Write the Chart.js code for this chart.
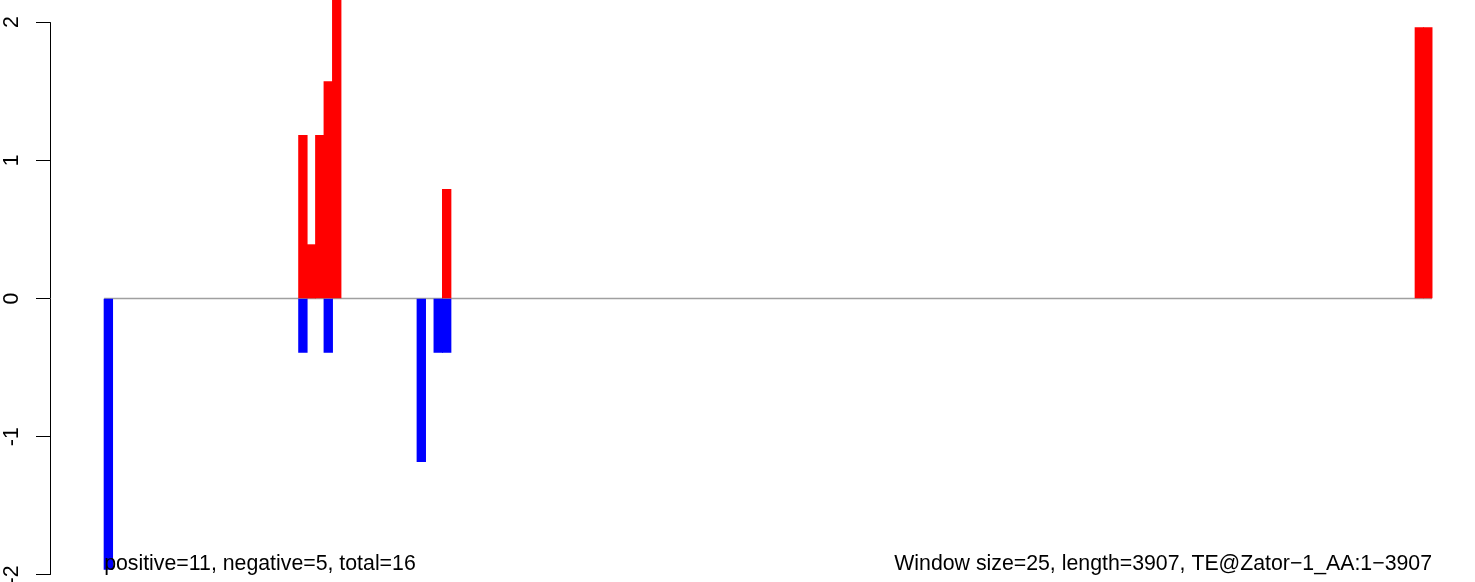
<!DOCTYPE html>
<html>
<head>
<meta charset="utf-8">
<script src="https://cdn.jsdelivr.net/npm/chart.js@4/dist/chart.umd.min.js"></script>
<style>
  html, body { margin: 0; padding: 0; background: #fff; }
  canvas { display: block; }
</style>
</head>
<body>
<canvas id="chart" width="1475" height="582"></canvas>
<script>
// ===== DATA =====
const WINDOW = 25;
const SEQ_END = 3925;            // 157 windows of 25 bp
const posWindows = [23, 24, 25, 26, 27, 40, 155, 156];
const posValues  = [1.18, 0.39, 1.18, 1.57, 2.36, 0.79, 1.96, 1.96];
const negWindows = [0, 23, 26, 37, 39, 40];
const negValues  = [-1.96, -0.39, -0.39, -1.18, -0.39, -0.39];
const yTicks = [-2, -1, 0, 1, 2];
const leftNote = 'positive=11, negative=5, total=16';
const rightNote = 'Window size=25, length=3907, TE@Zator\u22121_AA:1\u22123907';

const COLORS = {
  pos: '#FF0000',
  neg: '#0000FF',
  base: '#A0A0A0',
  ink: '#000000',
};
const FONT = '21.3px "Liberation Sans", Arial, sans-serif';

const toPoints = (wins, vals) => wins.map((w, i) => ({ x: w * WINDOW + WINDOW / 2, y: vals[i] }));

// R-style axis: line only between first and last tick, rotated labels, notes
const rAxis = {
  id: 'rAxis',
  afterDraw(chart) {
    const { ctx, scales: { x, y } } = chart;
    ctx.save();
    ctx.strokeStyle = COLORS.ink;
    ctx.lineWidth = 1;
    const ax = Math.round(y.right) + 0.5;
    ctx.beginPath();
    ctx.moveTo(ax, y.getPixelForValue(yTicks[yTicks.length - 1]));
    ctx.lineTo(ax, y.getPixelForValue(yTicks[0]));
    ctx.stroke();

    ctx.fillStyle = COLORS.ink;
    ctx.font = FONT;
    ctx.textAlign = 'center';
    ctx.textBaseline = 'middle';
    yTicks.forEach(t => {
      ctx.save();
      ctx.translate(12.5, y.getPixelForValue(t));
      ctx.rotate(-Math.PI / 2);
      ctx.fillText(String(t), 0, 0);
      ctx.restore();
    });

    const ty = y.getPixelForValue(yTicks[0]) - 5;
    ctx.textBaseline = 'alphabetic';
    ctx.textAlign = 'left';
    ctx.fillText(leftNote, x.getPixelForValue(0), ty);
    ctx.textAlign = 'right';
    ctx.fillText(rightNote, x.getPixelForValue(SEQ_END), ty);
    ctx.restore();
  },
};

new Chart(document.getElementById('chart'), {
  type: 'bar',
  data: {
    datasets: [
      {
        label: 'positive',
        data: toPoints(posWindows, posValues),
        backgroundColor: COLORS.pos,
        borderWidth: 0,
        barThickness: 8.7,
        grouped: false,
        order: 1,
      },
      {
        label: 'negative',
        data: toPoints(negWindows, negValues),
        backgroundColor: COLORS.neg,
        borderWidth: 0,
        barThickness: 8.7,
        grouped: false,
        order: 2,
      },
      {
        type: 'line',
        label: 'baseline',
        data: [{ x: 0, y: 0 }, { x: SEQ_END, y: 0 }],
        borderColor: COLORS.base,
        borderWidth: 1.5,
        pointRadius: 0,
        order: 3,
      },
    ],
  },
  options: {
    responsive: false,
    animation: false,
    devicePixelRatio: 1,
    layout: { padding: 0 },
    plugins: { legend: { display: false }, tooltip: { enabled: false } },
    scales: {
      x: {
        type: 'linear',
        display: false,
        min: -160,
        max: 4052,
        offset: false,
      },
      y: {
        min: -2.051,
        max: 2.160,
        afterFit: s => { s.width = 50; },
        afterBuildTicks: s => { s.ticks = yTicks.map(v => ({ value: v })); },
        ticks: { display: false },
        border: { display: false },
        grid: {
          drawOnChartArea: false,
          drawTicks: true,
          tickLength: 14,
          color: COLORS.ink,
          lineWidth: 1,
        },
      },
    },
  },
  plugins: [rAxis],
});
</script>
</body>
</html>
